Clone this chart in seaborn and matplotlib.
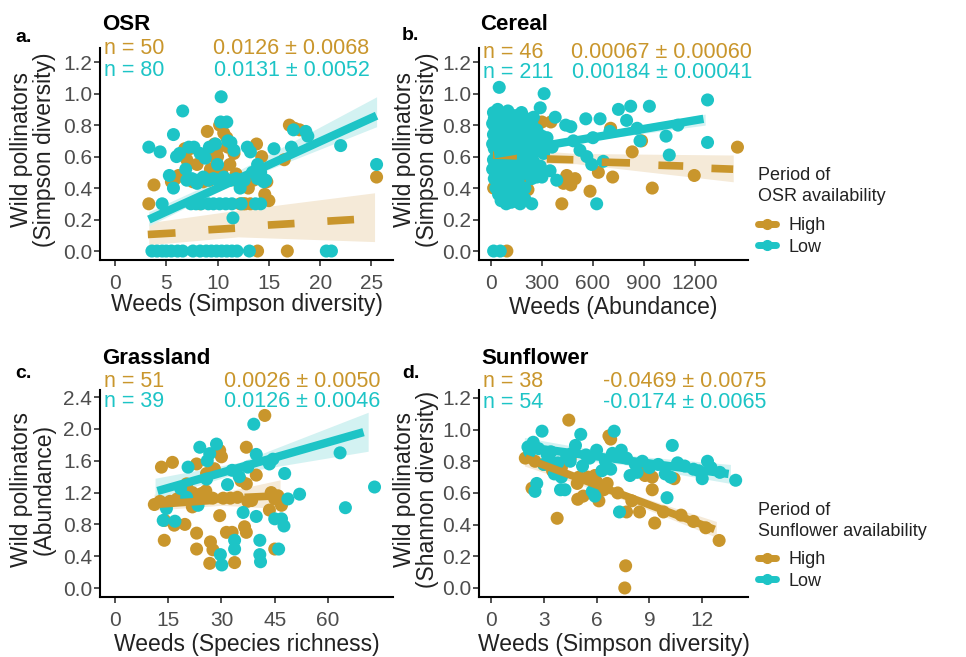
"""Weed vs wild pollinator relationships, four crop panels."""

import numpy as np
import pandas as pd
import seaborn as sns
import matplotlib.pyplot as plt
from matplotlib.lines import Line2D
from matplotlib.ticker import FormatStrFormatter

###################################################################################################
###################################################################################################

# a. OSR
a_high_x = [3.3, 3.8, 5.9, 6.2, 6.5, 6.8, 7.3, 7.6, 8.0, 8.6, 9.0, 9.3, 9.5, 9.7, 10.0, 10.2, 10.4,
            10.6, 10.9, 11.2, 11.6, 11.8, 12.0, 12.5, 12.9, 13.0, 13.5, 13.8, 13.9, 14.0, 14.3, 14.6,
            15.0, 16.5, 16.8, 17.0, 17.5, 18.0, 25.5, 5.5, 7.0, 8.3, 9.9, 11.0, 12.2, 13.2, 14.8,
            10.8, 9.2, 12.7]
a_high_y = [0.30, 0.42, 0.46, 0.48, 0.62, 0.65, 0.65, 0.44, 0.55, 0.44, 0.76, 0.52, 0.60, 0.68,
            0.60, 0.80, 0.50, 0.75, 0.72, 0.55, 0.62, 0.49, 0.44, 0.30, 0.46, 0.40, 0.45, 0.68,
            0.0, 0.46, 0.60, 0.36, 0.32, 0.58, 0.0, 0.80, 0.78, 0.77, 0.47, 0.44, 0.58, 0.30,
            0.64, 0.66, 0.30, 0.30, 0.44, 0.45, 0.45, 0.30]
a_low_x = [3.6, 4.1, 4.6, 5.0, 5.5, 6.1, 6.6, 7.6, 8.3, 8.9, 9.4, 9.9, 10.4, 10.9, 11.4, 11.9, 13.1,
           20.6, 21.1,
           4.6, 7.4, 7.9, 8.4, 9.1, 9.6, 10.2, 10.8, 11.4, 12.3, 13.7, 14.2,
           7.0, 7.5, 8.0, 8.6, 9.1, 9.6, 10.0, 10.6, 11.3, 11.8, 12.4, 13.9, 14.7,
           3.3, 4.4, 5.3, 5.7, 5.7, 6.0, 6.3, 6.6, 7.2, 7.7, 8.3, 8.8, 9.2, 9.8, 10.0, 10.35,
           10.3, 10.9, 11.0, 11.3, 11.5, 11.6, 12.2, 12.9, 13.4, 13.9, 14.2, 15.5, 17.2, 17.4,
           18.6, 18.8, 22.0, 25.5, 12.6, 13.2, 8.0, 6.9, 14.5]
a_low_y = [0.0] * 19 + [0.30] * 12 + \
          [0.45, 0.46, 0.45, 0.47, 0.45, 0.46, 0.45, 0.47, 0.45, 0.46, 0.45, 0.46, 0.45] + \
          [0.66, 0.63, 0.48, 0.40, 0.74, 0.60, 0.62, 0.89, 0.66, 0.66, 0.62, 0.59, 0.66, 0.68,
           0.55, 0.98, 0.82, 0.82, 0.70, 0.69, 0.21, 0.64, 0.40, 0.66, 0.50, 0.55, 0.50, 0.65,
           0.66, 0.77, 0.76, 0.73, 0.67, 0.55, 0.45, 0.63, 0.43, 0.52, 0.44]
a_high_fit_x = [[3.2, 5.9], [9.1, 11.7], [14.9, 17.5], [20.7, 23.3]]
a_high_fit_y = [[0.105, 0.115], [0.135, 0.145], [0.165, 0.175], [0.19, 0.20]]
a_low_fit_x = [3.3, 25.5]
a_low_fit_y = [0.20, 0.86]
a_high_band = [[3.3, 12.0, 25.3], [0.04, 0.09, 0.06], [0.18, 0.26, 0.37]]
a_low_band = [[3.3, 12.0, 25.5], [0.16, 0.44, 0.79], [0.25, 0.51, 0.98]]

# b. Cereal
b_high_x = [300, 417, 427, 446, 470, 495, 583, 632, 716, 704, 831, 886, 949, 1196, 1450, 94, 16,
            162, 192, 133, 60, 218, 353, 250, 120, 40, 180, 30, 70, 100, 140, 200]
b_high_y = [0.82, 0.30, 0.43, 0.48, 0.42, 0.46, 0.38, 0.50, 0.47, 0.78, 0.63, 0.70, 0.40, 0.48,
            0.66, 0.0, 0.40, 0.31, 0.37, 0.34, 0.39, 0.39, 0.82, 0.70, 0.45, 0.55, 0.50, 0.70,
            0.65, 0.80, 0.60, 0.45]
b_low_x = [49, 313, 290, 378, 440, 470, 558, 642, 750, 822, 932, 1274, 1274, 1030, 1049, 877, 798,
           622, 564, 593, 661, 524, 485, 90, 172, 240, 16, 55, 348, 387, 270, 600, 700, 860, 1100,
           15, 40, 70, 100, 140, 180,
           20, 55, 90, 125, 160, 210, 250,
           10, 35, 65, 95, 130, 170, 200, 240,
           25, 50, 80, 110, 145, 190, 230, 270,
           15, 45, 75, 105, 135, 165, 210, 260, 300,
           30, 60, 90, 120, 155, 190, 225, 280, 330,
           10, 40, 70, 100, 130, 170, 205, 250,
           20, 55, 85, 115, 150, 185, 220, 270, 360,
           35, 65, 95, 140, 175, 240, 310,
           15, 50, 80, 120, 160, 200, 250,
           25, 60, 100, 135, 185, 230, 290,
           10, 40, 75, 110, 150, 210, 260,
           30, 65, 95, 130, 170, 220,
           20, 55, 85, 120, 160, 240, 300,
           40, 75, 110, 150,
           30, 70, 105, 140, 200,
           45, 95, 130, 180,
           60, 120, 200]
b_low_y = [1.04, 1.00, 0.91, 0.85, 0.80, 0.79, 0.84, 0.84, 0.90, 0.92, 0.92, 0.96, 0.69, 0.73,
           0.61, 0.70, 0.83, 0.30, 0.60, 0.55, 0.57, 0.64, 0.70, 0.30, 0.30, 0.30, 0.0, 0.0, 0.51,
           0.45, 0.47, 0.72, 0.76, 0.78, 0.80,
           0.88, 0.90, 0.87, 0.89, 0.86, 0.88,
           0.84, 0.86, 0.85, 0.83, 0.86, 0.84, 0.85,
           0.81, 0.82, 0.80, 0.83, 0.81, 0.82, 0.80, 0.81,
           0.78, 0.77, 0.79, 0.78, 0.76, 0.78, 0.79, 0.77,
           0.74, 0.75, 0.73, 0.75, 0.74, 0.76, 0.74, 0.75, 0.73,
           0.71, 0.72, 0.70, 0.72, 0.71, 0.70, 0.72, 0.71, 0.72,
           0.68, 0.67, 0.69, 0.68, 0.67, 0.68, 0.69, 0.67,
           0.65, 0.64, 0.66, 0.65, 0.64, 0.65, 0.66, 0.64, 0.66,
           0.62, 0.61, 0.62, 0.61, 0.62, 0.60, 0.62,
           0.58, 0.59, 0.58, 0.57, 0.59, 0.58, 0.57,
           0.55, 0.56, 0.55, 0.54, 0.56, 0.55, 0.54,
           0.52, 0.51, 0.53, 0.52, 0.51, 0.52, 0.53,
           0.49, 0.48, 0.50, 0.49, 0.48, 0.49,
           0.46, 0.45, 0.46, 0.47, 0.45, 0.46, 0.47,
           0.43, 0.42, 0.43, 0.42,
           0.40, 0.39, 0.40, 0.38, 0.40,
           0.36, 0.35, 0.36, 0.35,
           0.32, 0.31, 0.33]
b_high_fit_x = [[12, 153], [329, 485], [652, 818], [985, 1131], [1297, 1425]]
b_high_fit_y = [[0.61, 0.605], [0.585, 0.58], [0.565, 0.56], [0.545, 0.54], [0.525, 0.52]]
b_low_fit_x = [20, 1250]
b_low_fit_y = [0.615, 0.84]
b_high_band = [[10, 500, 1425], [0.56, 0.555, 0.44], [0.66, 0.62, 0.61]]
b_low_band = [[20, 500, 1260], [0.59, 0.69, 0.80], [0.64, 0.73, 0.87]]

# c. Grassland
c_high_x = [42.2, 13.1, 16.2, 23.0, 29.5, 30.0, 37.0, 37.0, 39.8, 45.9, 45.0, 46.9, 45.0, 37.4,
            36.5, 37.0, 31.4, 33.0, 33.7, 29.5, 26.7, 27.6, 26.9, 23.0, 23.0, 19.7, 16.7, 13.9,
            11.1, 12.7, 15.5, 18.7, 20.2, 21.8, 23.3, 24.5, 25.6, 20.2, 25.8, 21.8, 27.5, 30.5,
            32.5, 34.5, 28.0, 17.5, 14.0, 35.5, 38.5, 43.5, 44.0]
c_high_y = [2.17, 1.52, 1.58, 1.56, 1.73, 1.65, 1.77, 1.31, 1.42, 1.16, 1.12, 1.04, 0.49, 1.09,
            0.77, 0.70, 0.70, 0.70, 0.32, 0.91, 0.31, 0.48, 0.58, 0.49, 0.69, 0.80, 0.79, 0.60,
            1.05, 1.09, 1.09, 1.15, 1.18, 1.20, 1.17, 1.19, 1.22, 1.31, 1.44, 1.02, 1.13, 1.13,
            1.13, 1.14, 1.50, 1.12, 0.85, 1.35, 1.10, 0.98, 1.20]
c_low_x = [39.1, 63.4, 64.9, 73.1, 52.0, 48.7, 47.8, 46.9, 47.6, 46.1, 45.0, 40.8, 40.8, 39.8,
           41.0, 39.8, 36.1, 33.7, 33.7, 29.7, 30.1, 28.6, 23.9, 26.7, 20.6, 23.4, 16.9, 13.6,
           25.8, 31.7, 37.4, 43.5, 20.2, 14.5, 26.0, 35.0, 44.5, 33.0, 18.5]
c_low_y = [2.06, 1.70, 1.01, 1.27, 1.18, 1.12, 1.44, 0.87, 0.78, 0.49, 0.87, 0.60, 0.42, 0.90,
           0.33, 1.68, 0.95, 0.60, 0.49, 0.42, 0.29, 1.81, 1.77, 1.69, 1.52, 1.04, 0.84, 0.85,
           1.37, 1.30, 1.52, 1.56, 1.14, 1.0, 1.6, 1.4, 1.62, 1.48, 1.25]
c_high_fit_x = [[11, 27], [28.5, 35], [36.5, 46]]
c_high_fit_y = [[1.05, 1.10], [1.12, 1.13], [1.14, 1.16]]
c_low_fit_x = [12, 70]
c_low_fit_y = [1.22, 1.96]
c_high_band = [[11, 30, 46.5], [0.98, 1.04, 1.0], [1.18, 1.2, 1.36]]
c_low_band = [[11.3, 35, 71.3], [1.12, 1.45, 1.72], [1.38, 1.58, 2.21]]

# d. Sunflower
d_high_x = [4.42, 6.7, 6.8, 1.95, 2.33, 3.76, 4.93, 5.24, 6.13, 6.6, 7.65, 7.6, 7.7, 8.44, 8.44,
            8.75, 9.16, 9.16, 9.3, 10.4, 12.96, 5.5, 5.9, 4.5, 4.9, 2.5, 3.0, 3.5, 4.0, 5.0, 6.0,
            6.4, 7.2, 8.0, 9.8, 10.8, 11.5, 12.2]
d_high_y = [1.06, 0.96, 0.94, 0.82, 0.63, 0.44, 0.56, 0.58, 0.55, 0.66, 0.14, 0.00, 0.48, 0.48,
            0.75, 0.71, 0.70, 0.62, 0.41, 0.69, 0.30, 0.70, 0.71, 0.82, 0.66, 0.80, 0.78, 0.74,
            0.76, 0.70, 0.67, 0.62, 0.60, 0.55, 0.48, 0.46, 0.42, 0.38]
d_low_x = [2.9, 5.1, 7.0, 10.3, 13.9, 12.3, 12.0, 10.0, 10.2, 7.3, 7.9, 6.3, 5.75, 3.95, 4.2, 2.6,
           2.5, 3.6, 2.4, 2.1, 7.4, 6.0, 5.2, 4.3, 2.2, 2.7, 3.2, 3.4, 3.8, 4.6, 4.8, 5.4, 5.6,
           6.5, 6.8, 7.7, 8.2, 8.6, 9.0, 9.5, 10.6, 11.0, 11.5, 12.5, 13.0, 3.0, 4.0, 5.9, 6.9,
           8.3, 9.9, 11.8, 3.3, 4.5]
d_low_y = [0.99, 0.97, 0.99, 0.90, 0.68, 0.80, 0.69, 0.57, 0.70, 0.48, 0.71, 0.74, 0.61, 0.62,
           0.62, 0.66, 0.61, 0.72, 0.92, 0.89, 0.87, 0.87, 0.77, 0.83, 0.86, 0.88, 0.84, 0.86,
           0.79, 0.85, 0.90, 0.84, 0.82, 0.80, 0.75, 0.82, 0.78, 0.80, 0.76, 0.78, 0.79, 0.77,
           0.75, 0.76, 0.73, 0.78, 0.70, 0.58, 0.85, 0.73, 0.72, 0.74, 0.82, 0.80]
d_high_fit_x = [[1.95, 12.7]]
d_high_fit_y = [[0.82, 0.37]]
d_low_fit_x = [2.0, 13.5]
d_low_fit_y = [0.89, 0.72]
d_high_band = [[1.9, 7.0, 12.8], [0.77, 0.58, 0.32], [0.86, 0.63, 0.42]]
d_low_band = [[1.9, 7.5, 13.6], [0.84, 0.78, 0.66], [0.95, 0.84, 0.78]]

# Panel text
n_high = [50, 46, 51, 38]
n_low = [80, 211, 39, 54]
est_high = ['0.0126 \u00b1 0.0068', '0.00067 \u00b1 0.00060', '0.0026 \u00b1 0.0050', '-0.0469 \u00b1 0.0075']
est_low = ['0.0131 \u00b1 0.0052', '0.00184 \u00b1 0.00041', '0.0126 \u00b1 0.0046', '-0.0174 \u00b1 0.0065']

###################################################################################################
###################################################################################################

GOLD = '#C9962C'
TEAL = '#1DC4C6'
BAND_GOLD = '#F5EAD8'
BAND_TEAL = '#D3F2F2'
W, H = 966, 657

sns.set_theme(style='ticks')
plt.rcParams['font.family'] = ['Liberation Sans', 'DejaVu Sans']

fig = plt.figure(figsize=[W / 100, H / 100], dpi=100)


def px_axes(left, top, right, bottom):
    """Make axes from pixel bounds."""
    return fig.add_axes([left / W, 1 - bottom / H, (right - left) / W, (bottom - top) / H])


def plot_panel(ax, hx, hy, lx, ly, hfit_x, hfit_y, lfit_x, lfit_y, hband, lband):
    """Scatter of both periods, with fitted lines & confidence bands."""

    ax.fill_between(hband[0], hband[1], hband[2], color=BAND_GOLD, lw=0, zorder=1)
    ax.fill_between(lband[0], lband[1], lband[2], color=BAND_TEAL, lw=0, zorder=1)

    df = pd.DataFrame({'weeds': list(hx) + list(lx), 'poll': list(hy) + list(ly),
                       'period': ['High'] * len(hx) + ['Low'] * len(lx)})
    sns.scatterplot(data=df, x='weeds', y='poll', hue='period', palette={'High': GOLD, 'Low': TEAL},
                    s=88, linewidth=0, legend=False, ax=ax, zorder=2)

    for xs, ys in zip(hfit_x, hfit_y):
        ax.plot(xs, ys, color=GOLD, lw=5.5, solid_capstyle='butt', zorder=3)
    ax.plot(lfit_x, lfit_y, color=TEAL, lw=6, solid_capstyle='butt', zorder=4)

    # Set the top and right side frame & ticks off
    ax.spines['right'].set_visible(False)
    ax.spines['top'].set_visible(False)
    ax.spines['left'].set_linewidth(1.5)
    ax.spines['bottom'].set_linewidth(1.5)
    ax.spines['left'].set_color('black')
    ax.spines['bottom'].set_color('black')
    ax.tick_params(axis='both', length=4, width=1.2, color='#333333', labelcolor='#4D4D4D',
                   labelsize=15)
    ax.tick_params(axis='y', pad=1.5)
    ax.tick_params(axis='x', pad=6)
    ax.yaxis.set_major_formatter(FormatStrFormatter('%.1f'))


axes = [px_axes(100, 48, 393, 260), px_axes(479, 48, 748, 260),
        px_axes(100, 390, 393, 597), px_axes(479, 390, 748, 597)]
ax_a, ax_b, ax_c, ax_d = axes

plot_panel(ax_a, a_high_x, a_high_y, a_low_x, a_low_y, a_high_fit_x, a_high_fit_y,
           a_low_fit_x, a_low_fit_y, a_high_band, a_low_band)
plot_panel(ax_b, b_high_x, b_high_y, b_low_x, b_low_y, b_high_fit_x, b_high_fit_y,
           b_low_fit_x, b_low_fit_y, b_high_band, b_low_band)
plot_panel(ax_c, c_high_x, c_high_y, c_low_x, c_low_y, c_high_fit_x, c_high_fit_y,
           c_low_fit_x, c_low_fit_y, c_high_band, c_low_band)
plot_panel(ax_d, d_high_x, d_high_y, d_low_x, d_low_y, d_high_fit_x, d_high_fit_y,
           d_low_fit_x, d_low_fit_y, d_high_band, d_low_band)

# Limits & ticks
ax_a.set_xlim(-1.46, 27.1); ax_a.set_ylim(-0.057, 1.29)
ax_a.set_xticks([0, 5, 10, 15, 20, 25]); ax_a.set_yticks(np.arange(0, 1.21, 0.2))
ax_b.set_xlim(-70, 1512); ax_b.set_ylim(-0.057, 1.29)
ax_b.set_xticks([0, 300, 600, 900, 1200]); ax_b.set_yticks(np.arange(0, 1.21, 0.2))
ax_c.set_xlim(-4.2, 78.3); ax_c.set_ylim(-0.113, 2.49)
ax_c.set_xticks([0, 15, 30, 45, 60]); ax_c.set_yticks(np.arange(0, 2.41, 0.4))
ax_d.set_xlim(-0.68, 14.6); ax_d.set_ylim(-0.057, 1.25)
ax_d.set_xticks([0, 3, 6, 9, 12]); ax_d.set_yticks(np.arange(0, 1.21, 0.2))

# Titles & Labels
xlabels = ['Weeds (Simpson diversity)', 'Weeds (Abundance)',
           'Weeds (Species richness)', 'Weeds (Simpson diversity)']
ylabels = ['Wild pollinators\n(Simpson diversity)', 'Wild pollinators\n(Simpson diversity)',
           'Wild pollinators\n(Abundance)', 'Wild pollinators\n(Shannon diversity)']
titles = ['OSR', 'Cereal', 'Grassland', 'Sunflower']
letters = ['a.', 'b.', 'c.', 'd.']
xlab_y = [-0.155, -0.17, -0.174, -0.174]
n_y = [(1.0, 0.896), (0.98, 0.885), (1.04, 0.945), (1.04, 0.94)]
est_x = [0.92, 1.015, 0.956, 1.07]

for ii, ax in enumerate(axes):
    ax.set_xlabel(xlabels[ii], fontsize=16.5, color='#222222', va='top')
    ax.xaxis.set_label_coords(0.5, xlab_y[ii])
    ax.set_ylabel(ylabels[ii], fontsize=16.5, color='#222222', linespacing=1.0)
    ax.yaxis.set_label_coords(-0.15 if ii in (0, 2) else -0.149, 0.52)
    ax.text(0.015, n_y[ii][0], 'n = %d' % n_high[ii], color=GOLD, fontsize=15.5,
            transform=ax.transAxes, va='center', ha='left')
    ax.text(0.015, n_y[ii][1], 'n = %d' % n_low[ii], color=TEAL, fontsize=15.5,
            transform=ax.transAxes, va='center', ha='left')
    ax.text(est_x[ii], n_y[ii][0], est_high[ii], color=GOLD, fontsize=15.5,
            transform=ax.transAxes, va='center', ha='right')
    ax.text(est_x[ii], n_y[ii][1], est_low[ii], color=TEAL, fontsize=15.5,
            transform=ax.transAxes, va='center', ha='right')

title_pos = [(102, 24), (480, 24), (102, 359), (481, 359)]
letter_pos = [(15, 38), (402, 36), (15, 373), (402, 373)]
for ii in range(4):
    fig.text(title_pos[ii][0] / W, 1 - title_pos[ii][1] / H, titles[ii], fontsize=16,
             fontweight='bold', color='black', va='center', ha='left')
    fig.text(letter_pos[ii][0] / W, 1 - letter_pos[ii][1] / H, letters[ii], fontsize=14,
             fontweight='bold', color='black', va='center', ha='left')

# Legends: title as text, entries as a legend below it
handles = [Line2D([0], [0], color=GOLD, lw=5, marker='o', markersize=7),
           Line2D([0], [0], color=TEAL, lw=5, marker='o', markersize=7)]
leg_specs = [(ax_b, 'Period of\nOSR availability', 186, 217),
             (ax_d, 'Period of\nSunflower availability', 521, 551)]
for ax, title, title_y, entry_top in leg_specs:
    fig.text(758 / W, 1 - title_y / H, title, fontsize=13, color='#222222', va='center',
             ha='left', linespacing=1.35)
    leg = ax.legend(handles, ['High', 'Low'], loc='upper left',
                    bbox_to_anchor=(758 / W, 1 - entry_top / H), bbox_transform=fig.transFigure,
                    frameon=False, fontsize=13, handlelength=1.0, handletextpad=0.7,
                    labelspacing=0.25, borderpad=0, borderaxespad=0)
    for txt in leg.get_texts():
        txt.set_color('#222222')

fig.savefig('out.png', dpi=100)
